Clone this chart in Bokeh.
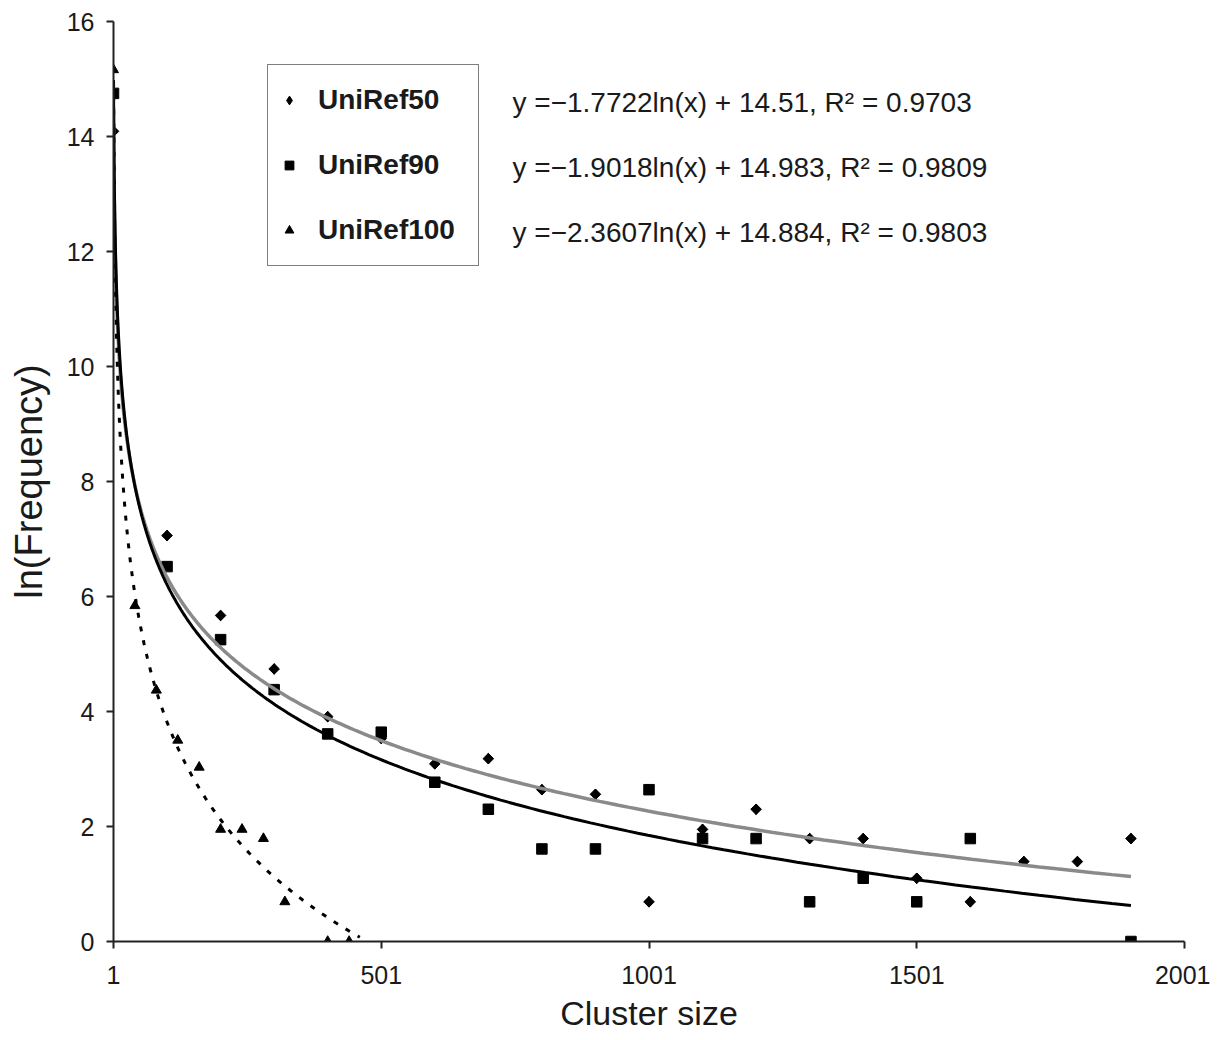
import numpy as np
from math import pi
from bokeh.plotting import figure
from bokeh.models import Range1d, FixedTicker, Label, Legend, LegendItem
from bokeh.embed import file_html
from bokeh.resources import INLINE

# ---- data ----
series_names = ["UniRef50", "UniRef90", "UniRef100"]

x50 = [1, 101, 201, 301, 401, 501, 601, 701, 801, 901, 1001, 1101, 1201, 1301, 1401, 1501, 1601, 1701, 1801, 1901]
y50 = [14.09, 7.06, 5.67, 4.74, 3.91, 3.53, 3.09, 3.18, 2.64, 2.56, 0.69, 1.95, 2.30, 1.79, 1.79, 1.10, 0.69, 1.39, 1.39, 1.79]

x90 = [1, 101, 201, 301, 401, 501, 601, 701, 801, 901, 1001, 1101, 1201, 1301, 1401, 1501, 1601, 1901]
y90 = [14.75, 6.52, 5.25, 4.38, 3.61, 3.64, 2.77, 2.30, 1.61, 1.61, 2.64, 1.79, 1.79, 0.69, 1.10, 0.69, 1.79, 0.0]

x100 = [1, 41, 81, 121, 161, 201, 241, 281, 321, 401, 441]
y100 = [15.16, 5.84, 4.37, 3.50, 3.03, 1.95, 1.95, 1.79, 0.69, 0.0, 0.0]

# printed trendline equations (slope, intercept)
eq50 = (-1.7722, 14.51)
eq90 = (-1.9018, 14.983)
eq_texts = [
    "y =\u22121.7722ln(x) + 14.51, R\u00b2 = 0.9703",
    "y =\u22121.9018ln(x) + 14.983, R\u00b2 = 0.9809",
    "y =\u22122.3607ln(x) + 14.884, R\u00b2 = 0.9803",
]

x_ticks = [1, 501, 1001, 1501, 2001]
y_ticks = [0, 2, 4, 6, 8, 10, 12, 14, 16]

FONT = "Liberation Sans"
INK = "#1a1a1a"

p = figure(width=1210, height=1040, output_backend="svg", toolbar_location=None,
           x_range=Range1d(1, 2001), y_range=Range1d(0, 16),
           min_border_left=113, min_border_right=26, min_border_top=21, min_border_bottom=99)
p.outline_line_color = None
p.grid.visible = False
p.background_fill_color = "white"
p.border_fill_color = "white"

# axes
for ax in (p.xaxis, p.yaxis):
    ax.axis_line_color = "#222222"
    ax.axis_line_width = 2
    ax.major_tick_line_color = "#222222"
    ax.major_tick_line_width = 2
    ax.major_tick_out = 7
    ax.major_tick_in = 0
    ax.minor_tick_line_color = None
    ax.major_label_text_font = FONT
    ax.major_label_text_font_size = "25px"
    ax.major_label_text_color = INK
    ax.axis_label_text_font = FONT
    ax.axis_label_text_font_style = "normal"
    ax.axis_label_text_color = INK

p.xaxis.ticker = FixedTicker(ticks=x_ticks)
p.yaxis.ticker = FixedTicker(ticks=y_ticks)
p.xaxis.major_label_standoff = 17
p.yaxis.major_label_standoff = 12
p.xaxis.axis_label = "Cluster size"
p.xaxis.axis_label_text_font_size = "34px"
p.xaxis.axis_label_standoff = 7
p.yaxis.axis_label = "ln(Frequency)"
p.yaxis.axis_label_text_font_size = "38px"
p.yaxis.axis_label_standoff = 14

# trend lines
xt = np.geomspace(1, 1901, 400)
s100, b100 = np.polyfit(np.log(np.array(x100, dtype=float)), np.array(y100), 1)
xt100 = np.geomspace(1, 461, 300)

# markers (UniRef50 diamonds: a rotated square, with an upright diamond inside it used as legend key)
r50 = p.scatter(x50, y50, marker="square", angle=pi / 4, size=7.5, fill_color="black", line_color="black")
r50_key = p.scatter(x50, y50, marker="diamond", size=10.5, fill_color="black", line_color="black")
r90 = p.scatter(x90, y90, marker="square", size=10.5, fill_color="black", line_color="black")
r100 = p.scatter(x100, y100, marker="triangle", size=10, fill_color="black", line_color="black")

p.line(xt, eq50[0] * np.log(xt) + eq50[1], line_color="#8a8a8a", line_width=3.5)
p.line(xt, eq90[0] * np.log(xt) + eq90[1], line_color="black", line_width=3)
p.line(xt100, s100 * np.log(xt100) + b100, line_color="black", line_width=3, line_dash="5 9")

# legend
legend = Legend(items=[LegendItem(label=n, renderers=[r]) for n, r in zip(series_names, [r50_key, r90, r100])],
                location=(154, 675), orientation="vertical")
legend.label_text_font = FONT
legend.label_text_font_style = "bold"
legend.label_text_font_size = "28px"
legend.label_text_color = INK
legend.label_text_baseline = "middle"
legend.glyph_width = 22
legend.glyph_height = 50
legend.label_height = 50
legend.label_width = 150
legend.label_standoff = 18
legend.spacing = 15
legend.padding = 10
legend.margin = 0
legend.border_line_color = "black"
legend.border_line_width = 1.5
legend.background_fill_color = "white"
legend.background_fill_alpha = 1
p.add_layout(legend)

# equation texts
for txt, yy in zip(eq_texts, [839, 774, 709]):
    p.add_layout(Label(x=399, y=yy, x_units="screen", y_units="screen", text=txt,
                       text_font=FONT, text_font_size="28px", text_color=INK,
                       text_baseline="middle", text_align="left"))

open("out.html", "w").write(file_html(p, INLINE))
